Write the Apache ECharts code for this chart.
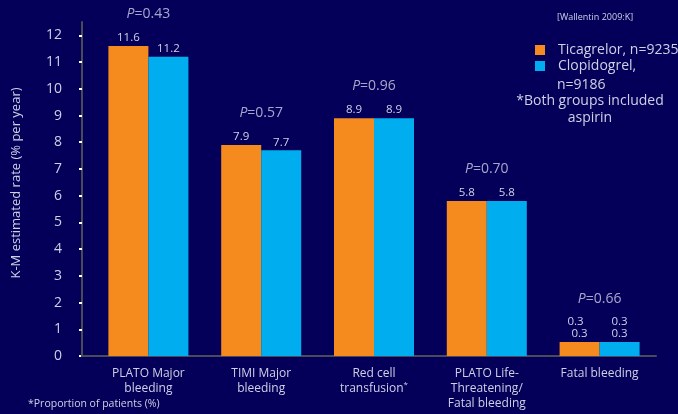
<!DOCTYPE html>
<html>
<head>
<meta charset="utf-8">
<script src="https://cdn.jsdelivr.net/npm/echarts@6/dist/echarts.min.js"></script>
<style>
  html, body { margin: 0; padding: 0; background: #04005a; }
  #chart { width: 678px; height: 414px; }
</style>
</head>
<body>
<div id="chart"></div>
<script>
// Bleeding end points, K-M estimated rate (% per year)
const categories = [
  'PLATO Major\nbleeding',
  'TIMI Major\nbleeding',
  'Red cell\ntransfusion*',
  'PLATO Life-\nThreatening/\nFatal bleeding',
  'Fatal bleeding'
];
const seriesNames = ['Ticagrelor, n=9235', 'Clopidogrel, n=9186'];
const ticagrelor = [11.6, 7.9, 8.9, 5.8, 0.3];
const clopidogrel = [11.2, 7.7, 8.9, 5.8, 0.3];
const pValues = ['0.43', '0.57', '0.96', '0.70', '0.66'];
// how many times each value label is printed above its bar
const labelRepeats = [1, 1, 1, 1, 2];
const yAxisName = 'K-M estimated rate (% per year)';
const sourceNote = '[Wallentin 2009:K]';
const groupNote = '*Both groups included\naspirin';
const footNote = '*Proportion of patients (%)';

const FONT = '"Open Sans", "Noto Sans", sans-serif';
const TEXT = '#cfd0e6';
const ORANGE = '#f58a1f';
const BLUE = '#00aeef';
const AXIS = '#4b4b58';
const GRID = { left: 92, right: 22, top: 22, bottom: 58 };
const Y_OFFSET = 10;

const chart = echarts.init(document.getElementById('chart'), null, { renderer: 'canvas' });

function valueLabel(shiftFirst) {
  return function (p) {
    const v = String(p.value);
    const n = labelRepeats[p.dataIndex];
    if (n > 1) {
      const lines = [];
      for (let i = 0; i < n - 1; i++) lines.push(shiftFirst ? '{s|' + v + '}' : v);
      lines.push(v);
      return lines.join('\n');
    }
    return v;
  };
}

const labelCommon = {
  show: true,
  position: 'top',
  distance: 2,
  color: TEXT,
  fontFamily: FONT,
  fontSize: 11.5,
  lineHeight: 12,
  rich: { s: { color: TEXT, fontFamily: FONT, fontSize: 11.5, lineHeight: 12, padding: [0, 8, 0, 0] } }
};

// legend text: second entry wraps, its count continues on the next line
const legendLines = seriesNames.map((n, i) => i === 0 ? [n] : n.split(' '));

const option = {
  backgroundColor: '#04005a',
  animation: false,
  grid: GRID,
  legend: {
    orient: 'vertical',
    left: 535,
    top: 42,
    padding: 0,
    itemGap: 0,
    itemWidth: 10,
    itemHeight: 10,
    icon: 'rect',
    data: seriesNames,
    formatter: name => legendLines[seriesNames.indexOf(name)][0],
    textStyle: { color: TEXT, fontFamily: FONT, fontSize: 14, lineHeight: 16, padding: [0, 0, 0, 8] }
  },
  xAxis: {
    type: 'category',
    data: categories,
    axisLine: { lineStyle: { color: AXIS, width: 2 } },
    axisTick: { show: false },
    axisLabel: {
      color: TEXT,
      fontFamily: FONT,
      fontSize: 12,
      lineHeight: 15,
      margin: 10,
      interval: 0,
      formatter: v => v.replace('*', '{sup|*}'),
      rich: { sup: { color: TEXT, fontFamily: FONT, fontSize: 8, lineHeight: 15, verticalAlign: 'top' } }
    }
  },
  yAxis: {
    type: 'value',
    min: 0,
    max: 12.5,
    interval: 1,
    offset: Y_OFFSET,
    splitLine: { show: false },
    axisLine: { show: true, lineStyle: { color: AXIS, width: 2 } },
    axisTick: { show: true, length: 3, lineStyle: { color: '#ffffff', width: 2 } },
    axisLabel: {
      color: TEXT,
      fontFamily: FONT,
      fontSize: 14,
      margin: 20,
      showMaxLabel: false,
      formatter: v => (Number.isInteger(v) ? String(v) : '')
    },
    name: yAxisName,
    nameLocation: 'middle',
    nameGap: 59,
    nameTextStyle: { color: TEXT, fontFamily: FONT, fontSize: 13, padding: [0, 0, 0, 12] }
  },
  series: [
    {
      name: seriesNames[0],
      type: 'bar',
      data: ticagrelor,
      barWidth: 40,
      barGap: '0%',
      barMinHeight: 14,
      itemStyle: { color: ORANGE },
      label: Object.assign({}, labelCommon, { formatter: valueLabel(true) })
    },
    {
      name: seriesNames[1],
      type: 'bar',
      data: clopidogrel,
      barWidth: 40,
      barMinHeight: 14,
      itemStyle: { color: BLUE },
      label: Object.assign({}, labelCommon, { formatter: valueLabel(false) })
    },
    {
      // P value above each pair, resting on the taller bar
      name: 'P',
      type: 'scatter',
      symbolSize: 0,
      silent: true,
      data: ticagrelor.map((v, i) => ({
        value: Math.max(v, clopidogrel[i]),
        label: { offset: [0, -20 - 12 * (labelRepeats[i] - 1) - (i === ticagrelor.length - 1 ? 5 : 0)] }
      })),
      label: {
        show: true,
        position: 'top',
        color: TEXT,
        fontFamily: FONT,
        fontSize: 14,
        formatter: p => '{i|P}=' + pValues[p.dataIndex],
        rich: { i: { color: TEXT, fontFamily: FONT, fontSize: 14, fontStyle: 'italic' } }
      }
    }
  ],
  graphic: [
    {
      type: 'text', x: 557, y: 17,
      style: { text: sourceNote, fill: TEXT, font: '9px ' + FONT, verticalAlign: 'middle' }
    },
    {
      type: 'text', x: 557, y: 85,
      style: { text: legendLines[1].slice(1).join(' '), fill: TEXT, font: '14px ' + FONT, verticalAlign: 'middle' }
    },
    {
      type: 'text', x: 590, y: 93,
      style: { text: groupNote, fill: TEXT, font: '14px ' + FONT, lineHeight: 17, align: 'center', verticalAlign: 'top' }
    },
    {
      type: 'text', x: 28, y: 404,
      style: { text: footNote, fill: TEXT, font: '10.5px ' + FONT, verticalAlign: 'middle' }
    }
  ]
};

chart.setOption(option);

// carry the baseline out to the offset value axis
const y0 = chart.convertToPixel({ yAxisIndex: 0 }, 0);
chart.setOption({
  graphic: option.graphic.concat([{
    type: 'line',
    shape: { x1: GRID.left - Y_OFFSET - 1, y1: y0, x2: GRID.left, y2: y0 },
    style: { stroke: AXIS, lineWidth: 2 },
    z: 1
  }])
});
</script>
</body>
</html>
